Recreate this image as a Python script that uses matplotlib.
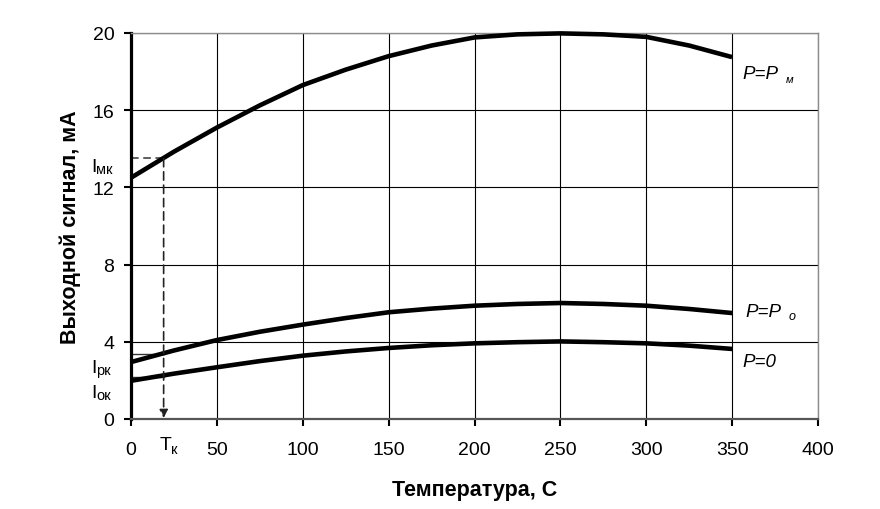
import matplotlib
matplotlib.use("Agg")
import matplotlib.pyplot as plt
from matplotlib.transforms import offset_copy

plt.rcParams['font.family'] = ['Liberation Sans', 'DejaVu Sans']

# Data
temp = [0, 25, 50, 75, 100, 125, 150, 175, 200, 225, 250, 275, 300, 325, 350]
i_pm = [12.5, 13.85, 15.1, 16.25, 17.3, 18.1, 18.8, 19.35, 19.77, 19.93, 19.98, 19.93, 19.8, 19.35, 18.75]
i_po = [2.95, 3.55, 4.09, 4.52, 4.89, 5.23, 5.53, 5.72, 5.87, 5.96, 6.01, 5.96, 5.87, 5.7, 5.49]
i_p0 = [1.98, 2.35, 2.68, 3.0, 3.28, 3.5, 3.68, 3.82, 3.92, 3.98, 4.02, 3.98, 3.92, 3.8, 3.63]
x_ticks = [0, 50, 100, 150, 200, 250, 300, 350, 400]
y_ticks = [0, 4, 8, 12, 16, 20]
t_k = 19
i_mk = 13.5
i_pk = 3.35
i_ok = 2.2

fig = plt.figure(figsize=(8.8, 5.1), dpi=100)
ax = fig.add_axes([131/880, 1-420/510, (818-131)/880, (420-34)/510])

ax.set_xlim(0, 400)
ax.set_ylim(0, 20)
ax.set_xticks(x_ticks)
ax.set_yticks(y_ticks)
ax.grid(True, color='black', linewidth=0.8)
ax.set_axisbelow(True)

for s in ['top', 'right']:
    ax.spines[s].set_color('#8c8c8c')
    ax.spines[s].set_linewidth(1.0)
ax.spines['left'].set_color('black')
ax.spines['left'].set_linewidth(2.3)
ax.spines['bottom'].set_color('#555555')
ax.spines['bottom'].set_linewidth(1.6)

ax.tick_params(axis='both', labelsize=14, direction='out', length=5, width=1.5, color='black')
ax.tick_params(axis='x', pad=11)
ax.tick_params(axis='y', pad=7)

for ys in (i_pm, i_po, i_p0):
    ax.plot(temp, ys, color='black', linewidth=3.3, clip_on=False, zorder=3,
            solid_capstyle='butt')

# Tk guide lines
ax.plot([0, t_k], [i_mk, i_mk], color='#333333', linewidth=1.1, dashes=(5, 3), zorder=2)
ax.plot([0, t_k], [i_pk, i_pk], color='#333333', linewidth=1.0, zorder=2)
ax.plot([0, t_k], [i_ok, i_ok], color='#333333', linewidth=1.0, zorder=2)
ax.annotate('', xy=(t_k, 0.05), xytext=(t_k, i_mk),
            arrowprops=dict(arrowstyle='-|>', color='#222222', lw=1.2,
                            linestyle=(0, (5, 3)), mutation_scale=12,
                            shrinkA=0, shrinkB=0))

ax.set_xlabel('Температура, С', fontsize=15.5, fontweight='bold', labelpad=15)
ax.set_ylabel('Выходной сигнал, мА', fontsize=15.5, fontweight='bold', labelpad=8)

# Left-side labels (I with subscripts)
def sub_label(x, y, main, sub, trans, dx, dy, size=13, subsize=10, style='normal'):
    ax.text(x, y, main, transform=trans, fontsize=size, ha='left', va='baseline',
            style=style, clip_on=False)
    t2 = offset_copy(trans, fig=fig, x=dx, y=dy, units='points')
    ax.text(x, y, sub, transform=t2, fontsize=subsize, ha='left', va='baseline',
            style=style, clip_on=False)

blend = ax.get_yaxis_transform()  # x in axes fraction, y in data
xl = (91 - 131) / (818 - 131)
sub_label(xl, 12.85, 'I', 'мк', blend, 3.8, -1.5, size=14, subsize=10.5)
sub_label(xl, 2.42, 'I', 'рк', blend, 3.8, -1.5, size=14, subsize=10.5)
sub_label(xl, 1.13, 'I', 'ок', blend, 3.8, -1.5, size=14, subsize=10.5)

# Tk label below the axis
xblend = ax.get_xaxis_transform()
ax.text(t_k - 2.5, -0.078, 'Т', transform=xblend, fontsize=14, ha='left', va='baseline', clip_on=False)
tt = offset_copy(xblend, fig=fig, x=8.6, y=-3, units='points')
ax.text(t_k - 2.5, -0.078, 'к', transform=tt, fontsize=10.5, ha='left', va='baseline', clip_on=False)

# Right labels
sub_label(356, 17.65, 'P=P', 'м', ax.transData, 31, -2.5, size=13.5, subsize=8, style='italic')
sub_label(358, 5.35, 'P=P', 'о', ax.transData, 31, -2.5, size=13.5, subsize=9, style='italic')
ax.text(356, 2.75, 'P=0', fontsize=13.5, style='italic', ha='left', va='baseline', clip_on=False)

fig.savefig('out.png', dpi=100)
